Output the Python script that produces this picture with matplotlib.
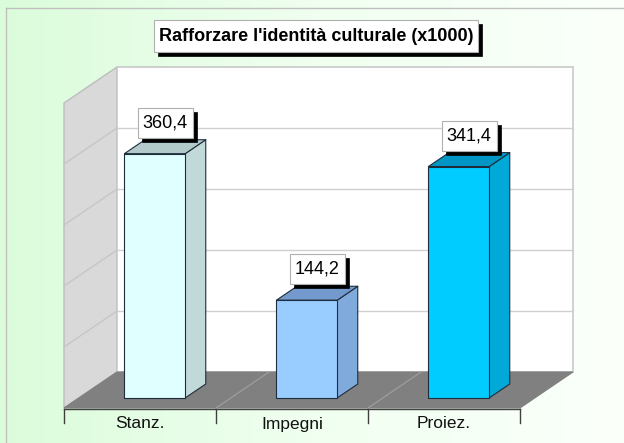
import numpy as np
import matplotlib
matplotlib.use("Agg")
import matplotlib.pyplot as plt
from matplotlib.patches import Polygon, Rectangle
from matplotlib.colors import LinearSegmentedColormap

# ---- data ----
title = "Rafforzare l'identità culturale (x1000)"
categories = ["Stanz.", "Impegni", "Proiez."]
values = [360.4, 144.2, 341.4]
value_labels = [f"{v:.1f}".replace(".", ",") for v in values]
front_colors = ["#e0ffff", "#99ccff", "#00ccff"]
side_colors = ["#c2d9d9", "#80aadb", "#00a9d8"]
top_colors = ["#b3caca", "#7499cc", "#0096c6"]
axis_max = 450
grid_step = 90

plt.rcParams['font.family'] = ['Liberation Sans', 'DejaVu Sans']

W, H = 624, 443
fig = plt.figure(figsize=(W / 100, H / 100), dpi=100)
ax = fig.add_axes([0, 0, 1, 1])
ax.set_xlim(0, W)
ax.set_ylim(H, 0)
ax.axis("off")
renderer = fig.canvas.get_renderer()

# background gradient
cmap = LinearSegmentedColormap.from_list("bg", ["#dbfcdb", "#f0fff0", "#fbfffb"])
grad = np.linspace(0, 1, 256).reshape(1, -1)
ax.imshow(grad, cmap=cmap, extent=[0, W, H, 0], aspect="auto", zorder=0)
ax.plot([6, W], [8, 8], color="#c0c0c0", lw=1, zorder=1)
ax.plot([6, 6], [8, H], color="#c0c0c0", lw=1, zorder=1)

# 3D geometry (oblique projection)
X0, SLOT, YF = 64, 152, 408
DX, DY = 53, 36
WALL_H = 305
scale = WALL_H / axis_max
n = len(categories)


def proj(u, v, d):
    return (X0 + u * SLOT + d * DX, YF - d * DY - v * scale)


def boxed_text(x, y, s, h, padx, fontsize, weight="normal", shadow=4):
    t = ax.text(x, y, s, ha="center", va="center", fontsize=fontsize,
                fontweight=weight, color="black", zorder=9)
    w = t.get_window_extent(renderer=renderer).width
    bw = w + 2 * padx
    ax.add_patch(Rectangle((x - bw / 2 + shadow, y - h / 2 + shadow), bw, h,
                           facecolor="black", edgecolor="black", lw=0.5, zorder=7))
    ax.add_patch(Rectangle((x - bw / 2, y - h / 2), bw, h,
                           facecolor="white", edgecolor="#b0b0b0", lw=0.8, zorder=8))
    return t


# left wall
lw_poly = [proj(0, 0, 1), proj(0, axis_max, 1), proj(0, axis_max, 0), proj(0, 0, 0)]
ax.add_patch(Polygon(lw_poly, closed=True, facecolor="#d9d9d9", edgecolor="#bdbdbd", lw=1, zorder=2))
# back wall
bw_poly = [proj(0, 0, 1), proj(0, axis_max, 1), proj(n, axis_max, 1), proj(n, 0, 1)]
ax.add_patch(Polygon(bw_poly, closed=True, facecolor="white", edgecolor="#c8c8c8", lw=1.2, zorder=2))
# gridlines
for g in np.arange(grid_step, axis_max, grid_step):
    a = proj(0, g, 1); b = proj(n, g, 1); c = proj(0, g, 0)
    ax.plot([a[0], b[0]], [a[1], b[1]], color="#d0d0d0", lw=1, zorder=3)
    ax.plot([a[0], c[0]], [a[1], c[1]], color="#c6c6c6", lw=1, zorder=3)
# floor
fl_poly = [proj(0, 0, 0), proj(0, 0, 1), proj(n, 0, 1), proj(n, 0, 0)]
ax.add_patch(Polygon(fl_poly, closed=True, facecolor="#808080", edgecolor="#808080", lw=0.8, zorder=3))
for u in range(1, n):
    a = proj(u, 0, 0); b = proj(u, 0, 1)
    ax.plot([a[0], b[0]], [a[1], b[1]], color="#a0a0a0", lw=0.8, zorder=3)
# front axis and ticks
a = proj(0, 0, 0); b = proj(n, 0, 0)
ax.plot([a[0], b[0]], [a[1] + 1, b[1] + 1], color="#404040", lw=1, zorder=4)
for u in range(n + 1):
    p = proj(u, 0, 0)
    ax.plot([p[0], p[0]], [p[1] + 1, p[1] + 15], color="#404040", lw=1, zorder=4)
for i, cat in enumerate(categories):
    p = proj(i + 0.5, 0, 0)
    ax.text(p[0], p[1] + 16, cat, ha="center", va="center", fontsize=12.5, color="#111111", zorder=5)

# bars
BW = 0.4
D1, D2 = 0.28, 0.667
LH = 30
for i, v in enumerate(values):
    u0, u1 = i + 0.5 - BW / 2, i + 0.5 + BW / 2
    front = [proj(u0, 0, D1), proj(u0, v, D1), proj(u1, v, D1), proj(u1, 0, D1)]
    side = [proj(u1, 0, D1), proj(u1, v, D1), proj(u1, v, D2), proj(u1, 0, D2)]
    top = [proj(u0, v, D1), proj(u0, v, D2), proj(u1, v, D2), proj(u1, v, D1)]
    kw = dict(closed=True, edgecolor="#1e2d3c", lw=0.8, zorder=6, joinstyle="round")
    ax.add_patch(Polygon(side, facecolor=side_colors[i], **kw))
    ax.add_patch(Polygon(top, facecolor=top_colors[i], **kw))
    ax.add_patch(Polygon(front, facecolor=front_colors[i], **kw))
    # value label
    cx = proj(i + 0.5, v, (D1 + D2) / 2)[0]
    cy = proj(u1, v, D2)[1] - 2 - LH / 2
    boxed_text(cx, cy, value_labels[i], LH, 5, 13)

# title
boxed_text(316, 36, title, 32, 5, 13, weight="bold")

fig.savefig("out.png", dpi=100)
